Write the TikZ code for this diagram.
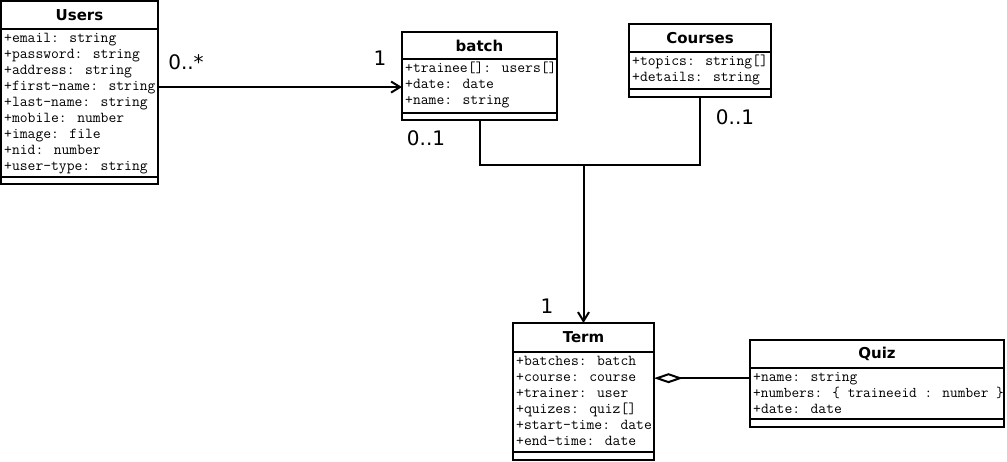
\documentclass[tikz,border=0pt]{standalone}
\usepackage{fontspec}
\newfontfamily\titlef{DejaVu Sans}
\usetikzlibrary{arrows.meta}
\newcommand\umlclass[9]{%
  \node[classbox, minimum width={(#4-#2)*1pt}, minimum height={(#5-#3)*1pt}] (#1) at (#2,#3) {};
  \draw[sepline] (#2,#6) -- (#4,#6);
  \draw[sepline] (#2,#7) -- (#4,#7);
  \node[title] (#1-title) at ({(#2+#4)/2},{(#3+#6)/2}) {#8};
  \foreach [count=\i] \txt in {#9} \node[attr] (#1-a\i) at (#2+3,#6+13+16*\i-16) {\txt};
}
\begin{document}
\begin{tikzpicture}[x=1pt,y=-1pt,
  classbox/.style={draw, line width=2pt, inner sep=0, outer sep=0, anchor=north west},
  sepline/.style={line width=2pt},
  title/.style={font=\titlef\bfseries\fontsize{15}{17}\selectfont, inner sep=0},
  attr/.style={font=\ttfamily\fontsize{15.2}{16}\selectfont, inner sep=0, anchor=base west},
  mult/.style={font=\titlef\fontsize{20}{22}\selectfont, inner sep=0},
  conn/.style={line width=2pt},
]
\useasboundingbox (0,0) rectangle (1007,461);

\umlclass{users}{1}{1}{158}{184}{29}{177}{Users}{{+email: string},{+password: string},{+address: string},{+first-name: string},{+last-name: string},{+mobile: number},{+image: file},{+nid: number},{+user-type: string}}
\umlclass{batch}{402}{32}{557}{120}{59}{113}{batch}{{+trainee[]: users[]},{+date: date},{+name: string}}
\umlclass{courses}{629}{24}{771}{97}{52}{89}{Courses}{{+topics: string[]},{+details: string}}
\umlclass{term}{513}{323}{654}{460}{352}{452}{Term}{{+batches: batch},{+course: course},{+trainer: user},{+quizes: quiz[]},{+start-time: date},{+end-time: date}}
\umlclass{quiz}{750}{340}{1004}{427}{368}{419}{Quiz}{{+name: string},{\fontsize{14.9}{16}\selectfont +numbers: \{ traineeid : number \}},{+date: date}}

% Users -> batch
\draw[conn, -{Straight Barb[length=9pt, width=11pt, line width=2pt]}] (users.east |- users-a4) -- (batch.west |- users-a4);

% batch / courses -> term
\coordinate (j) at (term.north |- 0,165);
\draw[conn] (batch.south) -- (batch.south |- j) -- (courses.south |- j) -- (courses.south);
\draw[conn, -{Straight Barb[length=9pt, width=11pt, line width=2pt]}] (j) -- (term.north);

% aggregation term <>- quiz
\draw[conn, {Diamond[open, length=29pt, width=10pt, line width=2pt]}-] (term.east |- quiz-a1) -- (quiz.west |- quiz-a1);

% multiplicities
\node[mult] (m1) at (186,62) {0..*};
\node[mult] (m2) at (380,58) {1};
\node[mult] (m3) at (426,138) {0..1};
\node[mult] (m4) at (735,117) {0..1};
\node[mult] (m5) at (547,306) {1};
\end{tikzpicture}
\end{document}
